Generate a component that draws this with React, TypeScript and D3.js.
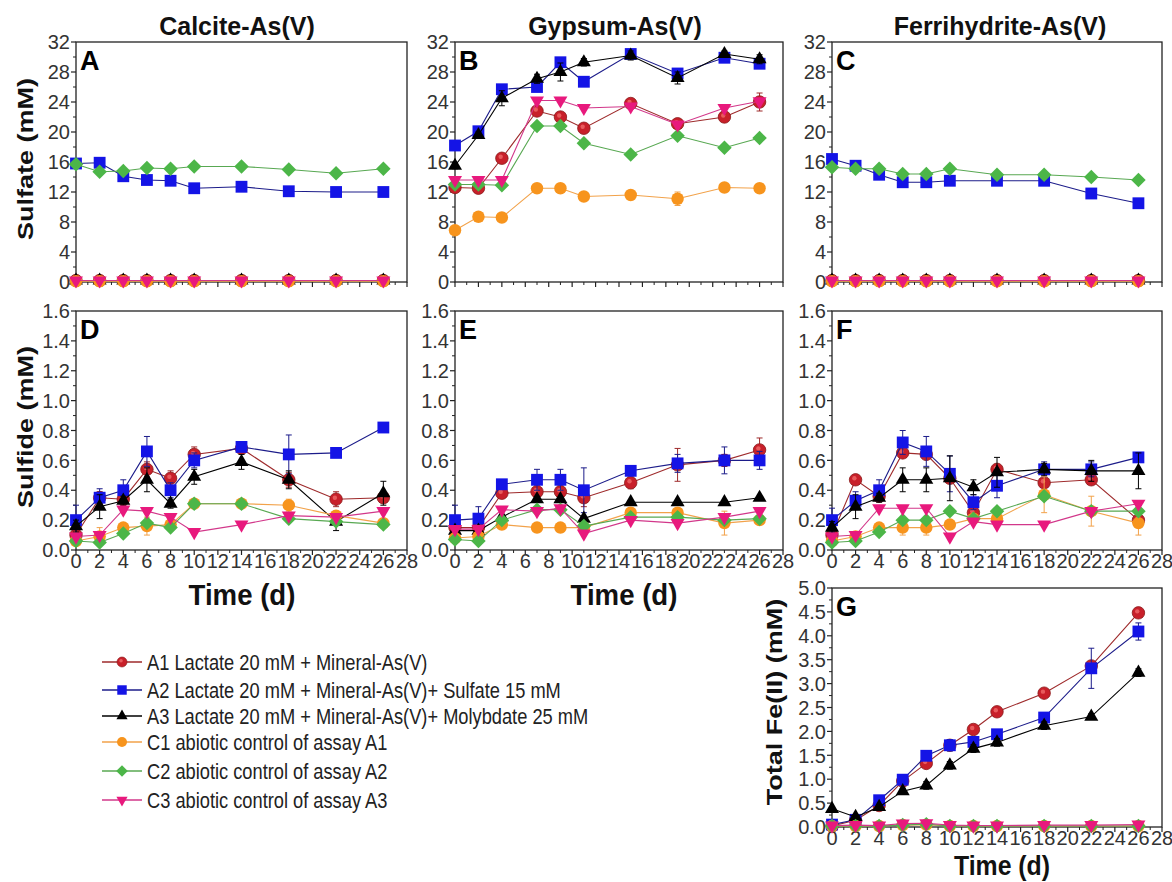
import React from "react";
import * as d3 from "d3";

const FONT = "'Liberation Sans',Arial,sans-serif";

const seriesKeys = ["A1", "A2", "A3", "C1", "C2", "C3"];
const seriesLabels = [
  "A1 Lactate 20 mM + Mineral-As(V)",
  "A2 Lactate 20 mM + Mineral-As(V)+ Sulfate 15 mM",
  "A3 Lactate 20 mM + Mineral-As(V)+ Molybdate 25 mM",
  "C1 abiotic control of assay A1",
  "C2 abiotic control of assay A2",
  "C3 abiotic control of assay A3",
];
const seriesLine = ["#9e2a2b", "#1c1c8a", "#000000", "#f2a24a", "#58a852", "#d2378a"];
const seriesFill = ["#c8202a", "#1414e6", "#000000", "#f7941d", "#4cb648", "#e8197d"];
const seriesShape = ["circle", "square", "triUp", "circle", "diamond", "triDown"];

const columnTitles = ["Calcite-As(V)", "Gypsum-As(V)", "Ferrihydrite-As(V)"];

const daysCalcite = [0, 2, 4, 6, 8, 10, 14, 18, 22, 26];
const daysGypsum = [0, 2, 4, 7, 9, 11, 15, 19, 23, 26];
const daysFerriSulfate = [0, 2, 4, 6, 8, 10, 14, 18, 22, 26];
const daysFerri = [0, 2, 4, 6, 8, 10, 12, 14, 18, 22, 26];

// Panel A: sulfate, calcite
const sulfA_A1 = [0.2, 0.2, 0.2, 0.2, 0.2, 0.2, 0.2, 0.2, 0.2, 0.2];
const sulfA_A2 = [15.8, 15.9, 14.1, 13.6, 13.5, 12.5, 12.7, 12.1, 12.0, 12.0];
const sulfA_A3 = [0.2, 0.2, 0.2, 0.2, 0.2, 0.2, 0.2, 0.2, 0.2, 0.2];
const sulfA_C1 = [0.1, 0.1, 0.1, 0.1, 0.1, 0.1, 0.1, 0.1, 0.1, 0.1];
const sulfA_C2 = [15.7, 14.7, 14.8, 15.2, 15.1, 15.4, 15.4, 15.0, 14.5, 15.1];
const sulfA_C3 = [0.2, 0.2, 0.2, 0.2, 0.2, 0.2, 0.2, 0.2, 0.2, 0.2];

// Panel B: sulfate, gypsum
const sulfB_A1 = [12.6, 12.5, 16.5, 22.8, 22.0, 20.5, 23.8, 21.1, 22.0, 24.0];
const sulfB_A2 = [18.2, 20.1, 25.7, 26.0, 29.3, 26.7, 30.4, 27.8, 29.9, 29.1];
const sulfB_A3 = [15.5, 19.6, 24.5, 27.1, 28.0, 29.3, 30.2, 27.2, 30.4, 29.7];
const sulfB_C1 = [6.9, 8.7, 8.6, 12.5, 12.5, 11.4, 11.6, 11.1, 12.6, 12.5];
const sulfB_C2 = [13.0, 13.0, 12.9, 20.8, 20.8, 18.5, 17.0, 19.5, 17.9, 19.2];
const sulfB_C3 = [13.6, 13.6, 13.6, 24.2, 24.2, 23.2, 23.4, 21.0, 23.2, 24.1];
const sulfB_errA1 = [0.4, 0.4, 0.4, 0.5, 0.5, 0.4, 0.6, 0.5, 0.5, 1.2];
const sulfB_errA3 = [0.4, 0.4, 1.0, 0.6, 1.2, 0.5, 0.6, 0.8, 0.4, 0.6];
const sulfB_errC1 = [0.3, 0.3, 0.3, 0.4, 0.4, 0.4, 0.4, 0.9, 0.4, 0.4];

// Panel C: sulfate, ferrihydrite
const sulfC_A1 = [0.2, 0.2, 0.2, 0.2, 0.2, 0.2, 0.2, 0.2, 0.2, 0.2];
const sulfC_A2 = [16.4, 15.5, 14.3, 13.3, 13.3, 13.5, 13.5, 13.5, 11.8, 10.5];
const sulfC_A3 = [0.2, 0.2, 0.2, 0.2, 0.2, 0.2, 0.2, 0.2, 0.2, 0.2];
const sulfC_C1 = [0.1, 0.1, 0.1, 0.1, 0.1, 0.1, 0.1, 0.1, 0.1, 0.1];
const sulfC_C2 = [15.3, 15.1, 15.1, 14.4, 14.4, 15.1, 14.3, 14.3, 14.0, 13.6];
const sulfC_C3 = [0.2, 0.2, 0.2, 0.2, 0.2, 0.2, 0.2, 0.2, 0.2, 0.2];

// Panel D: sulfide, calcite
const sulfiD_A1 = [0.10, 0.35, 0.34, 0.54, 0.48, 0.64, 0.68, 0.47, 0.34, 0.35];
const sulfiD_A2 = [0.20, 0.35, 0.40, 0.66, 0.40, 0.60, 0.69, 0.64, 0.65, 0.82];
const sulfiD_A3 = [0.16, 0.29, 0.33, 0.47, 0.31, 0.49, 0.59, 0.47, 0.19, 0.38];
const sulfiD_C1 = [0.06, 0.09, 0.15, 0.16, 0.17, 0.31, 0.31, 0.30, 0.23, 0.18];
const sulfiD_C2 = [0.06, 0.05, 0.11, 0.18, 0.15, 0.31, 0.31, 0.21, 0.19, 0.17];
const sulfiD_C3 = [0.09, 0.10, 0.27, 0.26, 0.22, 0.12, 0.17, 0.23, 0.22, 0.26];
const sulfiD_errA1 = [0.02, 0.04, 0.04, 0.05, 0.05, 0.05, 0.03, 0.05, 0.05, 0.03];
const sulfiD_errA2 = [0.10, 0.06, 0.07, 0.10, 0.05, 0.05, 0.03, 0.13, 0.03, 0.03];
const sulfiD_errA3 = [0.04, 0.08, 0.03, 0.08, 0.03, 0.05, 0.05, 0.06, 0.06, 0.08];
const sulfiD_errC1 = [0.02, 0.06, 0.03, 0.06, 0.04, 0.03, 0.03, 0.04, 0.03, 0.03];

// Panel E: sulfide, gypsum
const sulfiE_A1 = [0.15, 0.15, 0.38, 0.39, 0.39, 0.35, 0.45, 0.57, 0.60, 0.67];
const sulfiE_A2 = [0.20, 0.21, 0.44, 0.47, 0.47, 0.40, 0.53, 0.58, 0.60, 0.60];
const sulfiE_A3 = [0.13, 0.13, 0.22, 0.34, 0.34, 0.21, 0.32, 0.32, 0.32, 0.35];
const sulfiE_C1 = [0.08, 0.09, 0.17, 0.15, 0.15, 0.15, 0.25, 0.25, 0.18, 0.20];
const sulfiE_C2 = [0.07, 0.06, 0.20, 0.27, 0.27, 0.16, 0.22, 0.22, 0.20, 0.21];
const sulfiE_C3 = [0.14, 0.14, 0.27, 0.26, 0.28, 0.11, 0.20, 0.18, 0.22, 0.26];
const sulfiE_errA1 = [0.03, 0.03, 0.03, 0.04, 0.04, 0.06, 0.04, 0.11, 0.04, 0.08];
const sulfiE_errA2 = [0.10, 0.08, 0.03, 0.07, 0.07, 0.15, 0.03, 0.06, 0.09, 0.06];
const sulfiE_errC1 = [0.02, 0.02, 0.03, 0.03, 0.03, 0.03, 0.03, 0.03, 0.08, 0.03];

// Panel F: sulfide, ferrihydrite
const sulfiF_A1 = [0.10, 0.47, 0.36, 0.65, 0.64, 0.48, 0.25, 0.54, 0.45, 0.47, 0.20];
const sulfiF_A2 = [0.20, 0.33, 0.40, 0.72, 0.66, 0.51, 0.32, 0.43, 0.54, 0.54, 0.62];
const sulfiF_A3 = [0.15, 0.29, 0.35, 0.47, 0.47, 0.48, 0.42, 0.52, 0.54, 0.53, 0.53];
const sulfiF_C1 = [0.06, 0.09, 0.15, 0.15, 0.15, 0.17, 0.21, 0.21, 0.37, 0.26, 0.18];
const sulfiF_C2 = [0.05, 0.06, 0.12, 0.20, 0.20, 0.26, 0.21, 0.26, 0.36, 0.26, 0.26];
const sulfiF_C3 = [0.09, 0.10, 0.28, 0.28, 0.28, 0.09, 0.19, 0.17, 0.17, 0.26, 0.31];
const sulfiF_errA2 = [0.08, 0.06, 0.07, 0.08, 0.10, 0.12, 0.05, 0.08, 0.05, 0.05, 0.03];
const sulfiF_errA3 = [0.04, 0.08, 0.03, 0.08, 0.08, 0.15, 0.05, 0.10, 0.04, 0.07, 0.12];
const sulfiF_errC1 = [0.02, 0.03, 0.03, 0.05, 0.05, 0.03, 0.03, 0.03, 0.12, 0.10, 0.08];

// Panel G: total Fe(II), ferrihydrite
const feG_A1 = [0.02, 0.14, 0.45, 0.96, 1.33, 1.71, 2.04, 2.41, 2.80, 3.37, 4.48];
const feG_A2 = [0.05, 0.15, 0.56, 0.99, 1.49, 1.71, 1.78, 1.94, 2.29, 3.32, 4.09];
const feG_A3 = [0.38, 0.21, 0.42, 0.75, 0.87, 1.29, 1.64, 1.77, 2.12, 2.31, 3.23];
const feG_C1 = [0.02, 0.02, 0.02, 0.04, 0.05, 0.02, 0.02, 0.02, 0.02, 0.02, 0.02];
const feG_C2 = [0.02, 0.02, 0.02, 0.04, 0.06, 0.02, 0.02, 0.02, 0.02, 0.02, 0.02];
const feG_C3 = [0.03, 0.04, 0.03, 0.07, 0.08, 0.04, 0.03, 0.03, 0.04, 0.04, 0.05];
const feG_errA2 = [0.03, 0.03, 0.05, 0.05, 0.06, 0.12, 0.10, 0.05, 0.06, 0.42, 0.18];
const feG_errA3 = [0.04, 0.04, 0.04, 0.06, 0.08, 0.08, 0.08, 0.08, 0.08, 0.06, 0.08];

const xTicksMajor = [0, 2, 4, 6, 8, 10, 12, 14, 16, 18, 20, 22, 24, 26, 28];

type Series = { days: number[]; values: number[]; err?: number[] };

function markerPath(shape: string): { d: string; rot: number } {
  switch (shape) {
    case "square":
      return { d: d3.symbol().type(d3.symbolSquare).size(140)() as string, rot: 0 };
    case "triUp":
      return { d: d3.symbol().type(d3.symbolTriangle).size(85)() as string, rot: 0 };
    case "triDown":
      return { d: d3.symbol().type(d3.symbolTriangle).size(85)() as string, rot: 180 };
    case "diamond":
      return { d: d3.symbol().type(d3.symbolSquare).size(105)() as string, rot: 45 };
    default:
      return { d: d3.symbol().type(d3.symbolCircle).size(122)() as string, rot: 0 };
  }
}

function Marker({ i, cx, cy, s = 1 }: { i: number; cx: number; cy: number; s?: number }) {
  const m = markerPath(seriesShape[i]);
  const isA1 = seriesKeys[i] === "A1";
  return (
    <g transform={`translate(${cx},${cy}) scale(${s}) rotate(${m.rot})`}>
      <path d={m.d} fill={seriesFill[i]} stroke={isA1 ? "#8a1a1a" : "none"} strokeWidth={0.8} />
      {isA1 && <circle cx={-1.2} cy={-1.5} r={2.2} fill="#f06a6a" opacity={0.8} />}
    </g>
  );
}

type Box = { x0: number; x1: number; y0: number; y1: number };

function Panel({
  box,
  yMax,
  yStep,
  yDecimals,
  xLabels,
  letter,
  series,
}: {
  box: Box;
  yMax: number;
  yStep: number;
  yDecimals: number;
  xLabels: boolean;
  letter: string;
  series: Series[];
}) {
  const x = d3.scaleLinear().domain([0, 28]).range([box.x0, box.x1]);
  const y = d3.scaleLinear().domain([0, yMax]).range([box.y1, box.y0]);
  const nMajor = Math.round(yMax / yStep);
  const yMajor = d3.range(nMajor + 1).map((k) => k * yStep);
  const yMinor = d3.range(nMajor).map((k) => k * yStep + yStep / 2);
  const xMinor = d3.range(0, 28, 2).map((v) => v + 1);
  const line = d3
    .line<[number, number]>()
    .x((d) => x(d[0]))
    .y((d) => y(d[1]));
  return (
    <g>
      <rect x={box.x0} y={box.y0} width={box.x1 - box.x0} height={box.y1 - box.y0} fill="#fff" stroke="#222" strokeWidth={1.3} />
      {yMajor.map((v) => (
        <g key={"ym" + v}>
          <line x1={box.x0 - 5} x2={box.x0} y1={y(v)} y2={y(v)} stroke="#222" strokeWidth={1.2} />
          <text x={box.x0 - 6} y={y(v)} dy="0.36em" textAnchor="end" fontSize={20} fontFamily={FONT} fill="#333">
            {v.toFixed(yDecimals)}
          </text>
        </g>
      ))}
      {yMinor.map((v) => (
        <line key={"yn" + v} x1={box.x0 - 3} x2={box.x0} y1={y(v)} y2={y(v)} stroke="#222" strokeWidth={1} />
      ))}
      {xTicksMajor.map((v) => (
        <g key={"xm" + v}>
          <line x1={x(v)} x2={x(v)} y1={box.y1} y2={box.y1 + 5} stroke="#222" strokeWidth={1.2} />
          {xLabels && (
            <text x={x(v)} y={box.y1 + 18} textAnchor="middle" fontSize={20} fontFamily={FONT} fill="#333">
              {v}
            </text>
          )}
        </g>
      ))}
      {xMinor.map((v) => (
        <line key={"xn" + v} x1={x(v)} x2={x(v)} y1={box.y1} y2={box.y1 + 3} stroke="#222" strokeWidth={1} />
      ))}
      {series.map((s, i) => {
        const pts = s.days.map((d, k) => [d, s.values[k]] as [number, number]);
        return (
          <g key={"s" + i}>
            <path d={line(pts) as string} fill="none" stroke={seriesLine[i]} strokeWidth={1.1} />
            {s.err &&
              pts.map((p, k) => {
                const e = s.err![k];
                if (!e) return null;
                return (
                  <g key={"e" + k} stroke={seriesLine[i]} strokeWidth={1}>
                    <line x1={x(p[0])} x2={x(p[0])} y1={y(p[1] - e)} y2={y(p[1] + e)} />
                    <line x1={x(p[0]) - 3} x2={x(p[0]) + 3} y1={y(p[1] + e)} y2={y(p[1] + e)} />
                    <line x1={x(p[0]) - 3} x2={x(p[0]) + 3} y1={y(p[1] - e)} y2={y(p[1] - e)} />
                  </g>
                );
              })}
            {pts.map((p, k) => (
              <Marker key={"m" + k} i={i} cx={x(p[0])} cy={y(p[1])} />
            ))}
          </g>
        );
      })}
      <text x={box.x0 + 4} y={box.y0 + 28} fontSize={27} fontWeight="bold" fontFamily={FONT} fill="#000">
        {letter}
      </text>
    </g>
  );
}

function YTitle({ cx, cy, text }: { cx: number; cy: number; text: string }) {
  return (
    <text
      transform={`translate(${cx},${cy}) rotate(-90) scale(1,0.82)`}
      textAnchor="middle"
      fontSize={27}
      fontWeight="bold"
      fontFamily={FONT}
      fill="#111"
    >
      {text}
    </text>
  );
}

function XTitle({ cx, cy, size = 30 }: { cx: number; cy: number; size?: number }) {
  return (
    <text transform={`translate(${cx},${cy}) scale(0.92,1)`} textAnchor="middle" fontSize={size} fontWeight="bold" fontFamily={FONT} fill="#111">
      Time (d)
    </text>
  );
}

export default function App() {
  const col = [
    { x0: 76, x1: 407 },
    { x0: 455, x1: 783 },
    { x0: 832, x1: 1162 },
  ];
  const row = [
    { y0: 42, y1: 282 },
    { y0: 311, y1: 550 },
    { y0: 588, y1: 827 },
  ];
  const B = (c: number, r: number): Box => ({ ...col[c], ...row[r] });
  const mk = (days: number[], vals: number[][], errs: (number[] | undefined)[] = []): Series[] =>
    vals.map((v, i) => ({ days, values: v, err: errs[i] }));

  const panelA = mk(daysCalcite, [sulfA_A1, sulfA_A2, sulfA_A3, sulfA_C1, sulfA_C2, sulfA_C3]);
  const panelB = mk(daysGypsum, [sulfB_A1, sulfB_A2, sulfB_A3, sulfB_C1, sulfB_C2, sulfB_C3], [sulfB_errA1, undefined, sulfB_errA3, sulfB_errC1]);
  const panelC = mk(daysFerriSulfate, [sulfC_A1, sulfC_A2, sulfC_A3, sulfC_C1, sulfC_C2, sulfC_C3]);
  const panelD = mk(daysCalcite, [sulfiD_A1, sulfiD_A2, sulfiD_A3, sulfiD_C1, sulfiD_C2, sulfiD_C3], [sulfiD_errA1, sulfiD_errA2, sulfiD_errA3, sulfiD_errC1]);
  const panelE = mk(daysGypsum, [sulfiE_A1, sulfiE_A2, sulfiE_A3, sulfiE_C1, sulfiE_C2, sulfiE_C3], [sulfiE_errA1, sulfiE_errA2, undefined, sulfiE_errC1]);
  const panelF = mk(daysFerri, [sulfiF_A1, sulfiF_A2, sulfiF_A3, sulfiF_C1, sulfiF_C2, sulfiF_C3], [undefined, sulfiF_errA2, sulfiF_errA3, sulfiF_errC1]);
  const panelG = mk(daysFerri, [feG_A1, feG_A2, feG_A3, feG_C1, feG_C2, feG_C3], [undefined, feG_errA2, feG_errA3]);

  const legendRows = [662, 690, 716, 742, 771, 800];

  return (
    <svg width={1172} height={882} style={{ display: "block", position: "absolute", left: 0, top: 0 }}>
      <rect width={1172} height={882} fill="#fff" />
      {columnTitles.map((t, i) => (
        <text key={t} x={[237, 615, 1000][i]} y={35} textAnchor="middle" fontSize={25} fontWeight="bold" fontFamily={FONT} fill="#111">
          {t}
        </text>
      ))}
      <Panel box={B(0, 0)} yMax={32} yStep={4} yDecimals={0} xLabels={false} letter="A" series={panelA} />
      <Panel box={B(1, 0)} yMax={32} yStep={4} yDecimals={0} xLabels={false} letter="B" series={panelB} />
      <Panel box={B(2, 0)} yMax={32} yStep={4} yDecimals={0} xLabels={false} letter="C" series={panelC} />
      <Panel box={B(0, 1)} yMax={1.6} yStep={0.2} yDecimals={1} xLabels={true} letter="D" series={panelD} />
      <Panel box={B(1, 1)} yMax={1.6} yStep={0.2} yDecimals={1} xLabels={true} letter="E" series={panelE} />
      <Panel box={B(2, 1)} yMax={1.6} yStep={0.2} yDecimals={1} xLabels={true} letter="F" series={panelF} />
      <Panel box={B(2, 2)} yMax={5} yStep={0.5} yDecimals={1} xLabels={true} letter="G" series={panelG} />

      <YTitle cx={33} cy={159} text="Sulfate (mM)" />
      <YTitle cx={33} cy={427} text="Sulfide (mM)" />
      <YTitle cx={782} cy={702} text="Total Fe(II) (mM)" />
      <XTitle cx={242} cy={605} />
      <XTitle cx={624} cy={605} />
      <XTitle cx={1002} cy={875} size={27} />

      {seriesLabels.map((lab, i) => (
        <g key={lab}>
          <line x1={102} x2={142} y1={legendRows[i]} y2={legendRows[i]} stroke={seriesLine[i]} strokeWidth={1.3} />
          <Marker i={i} cx={122} cy={legendRows[i]} s={0.8} />
          <text transform={`translate(147,${legendRows[i]}) scale(0.83,1)`} dy="0.36em" fontSize={22} fontFamily={FONT} fill="#222">
            {lab}
          </text>
        </g>
      ))}
    </svg>
  );
}
